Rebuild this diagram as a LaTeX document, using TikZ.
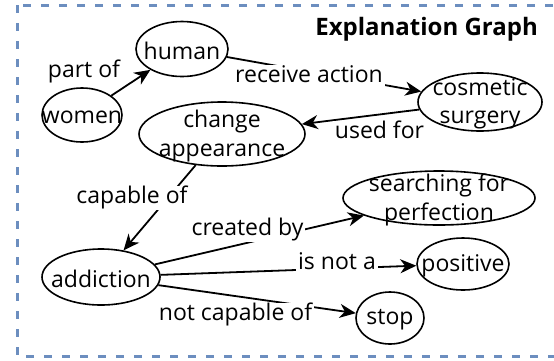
\documentclass[tikz,border=0pt]{standalone}
\usepackage{fontspec}
\setmainfont{Open Sans}
\usetikzlibrary{arrows.meta,shapes.geometric}
\definecolor{frameblue}{HTML}{6C8EBF}
\begin{document}
\begin{tikzpicture}[x=1pt,y=-1pt,
  concept/.style={draw, ellipse, line width=1.6pt, fill=white, inner sep=0pt},
  ntext/.style={font=\fontsize{23}{28.5}\selectfont, align=center, inner sep=0pt, yshift=-2pt},
  rel/.style={line width=1.8pt, -{Stealth[length=16pt,width=14pt,inset=5pt]}},
  lbl/.style={font=\fontsize{23}{27}\selectfont, fill=white, inner sep=2pt,
              text height=15.5pt, text depth=4.5pt},
  heading/.style={font=\fontsize{24}{28}\selectfont\bfseries, inner sep=0pt}]
\useasboundingbox (0,0) rectangle (554,360);
\clip (0,0) rectangle (554,360);
% dashed frame
\draw[frameblue, line width=3pt, dash pattern=on 8pt off 10pt] (17,5) rectangle (564,356);
\node[heading, anchor=base east] (title) at (538,35) {Explanation Graph};

% concepts
\node[concept, minimum width=80pt, minimum height=54pt,
      label={[ntext]center:women}] (women) at (82,115) {};
\node[concept, minimum width=92pt, minimum height=55pt,
      label={[ntext]center:human}] (human) at (182,49) {};
\node[concept, minimum width=166pt, minimum height=64pt,
      label={[ntext]center:change\\appearance}] (change) at (222,134) {};
\node[concept, minimum width=124pt, minimum height=58pt,
      label={[ntext]center:cosmetic\\surgery}] (cosmetic) at (480,102) {};
\node[concept, minimum width=192pt, minimum height=54pt,
      label={[ntext]center:searching for\\perfection}] (searching) at (439,198) {};
\node[concept, minimum width=92pt, minimum height=52pt,
      label={[ntext]center:positive}] (positive) at (463,264) {};
\node[concept, minimum width=68pt, minimum height=52pt,
      label={[ntext]center:stop}] (stop) at (390,318) {};
\node[concept, minimum width=118pt, minimum height=56pt,
      label={[ntext]center:addiction}] (addiction) at (101,277) {};

% relations
\draw[rel] (women) -- (human);
\draw[rel] (human) -- (cosmetic);
\draw[rel] (cosmetic) -- (change);
\draw[rel] (change) -- (addiction);
\draw[rel] (addiction) -- (searching);
\draw[rel] (addiction) -- (positive);
\draw[rel] (addiction) -- (stop);

% relation labels
\node[lbl, fill=none] (lpart) at (84,71.5) {part of};
\node[lbl] (lreceive) at (309,76.5) {receive action};
\node[lbl] (lused) at (379.5,132.5) {used for};
\node[lbl] (lcapable) at (132,197.5) {capable of};
\node[lbl] (lcreated) at (247.5,229.5) {created by};
\node[lbl] (lisnot) at (337,263.5) {is not a};
\node[lbl] (lnotcap) at (235.5,314.5) {not capable of};
\end{tikzpicture}
\end{document}
